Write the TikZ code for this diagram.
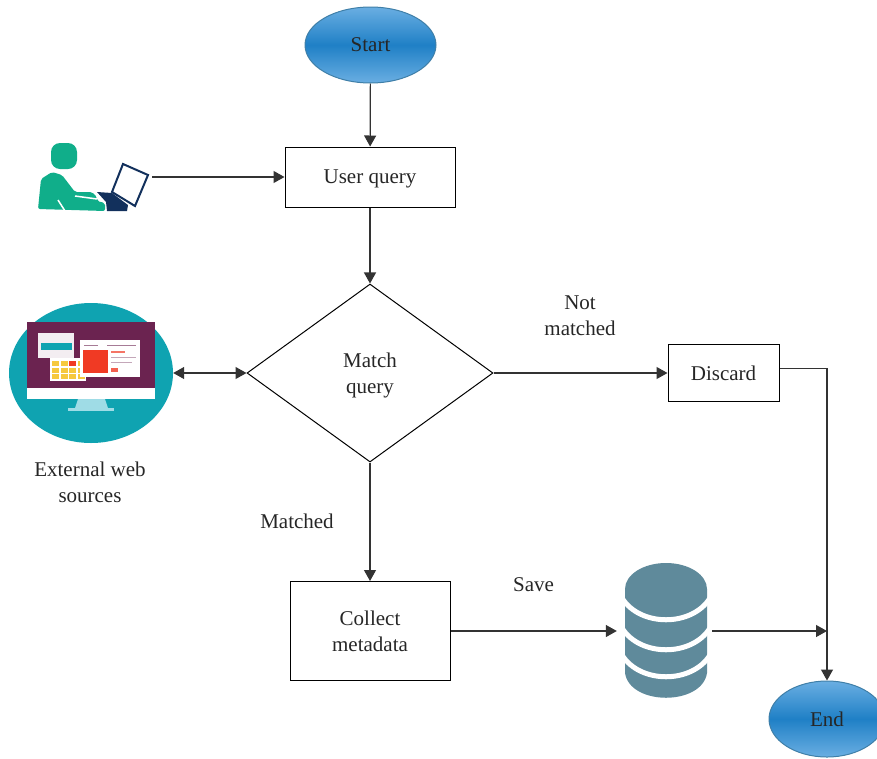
\documentclass[tikz,border=0pt]{standalone}
\usepackage{fontspec}
\setmainfont{Liberation Serif}
\usepackage{tikz}
\usetikzlibrary{shapes.geometric,arrows.meta}

\definecolor{linegray}{HTML}{333333}
\definecolor{bluetop}{HTML}{6AAEE2}
\definecolor{bluemid}{HTML}{1F80C6}
\definecolor{blueedge}{HTML}{3F7FA8}
\definecolor{usergreen}{HTML}{10AE8A}
\definecolor{laptopnavy}{HTML}{12305C}
\definecolor{webteal}{HTML}{0FA3B1}
\definecolor{webplum}{HTML}{6B2350}
\definecolor{webred}{HTML}{F03A24}
\definecolor{webyellow}{HTML}{F6C93E}
\definecolor{webstand}{HTML}{9FDCE6}
\definecolor{dbslate}{HTML}{5F8A9B}

\tikzset{
    label/.style={font=\fontsize{21}{26}\selectfont, text=black!85, align=center},
    box/.style={draw=black, line width=1pt, rectangle, inner sep=0pt},
    terminal/.style={ellipse, draw=blueedge, line width=1pt, inner sep=0pt,
        top color=bluetop, bottom color=bluetop, middle color=bluemid},
    iconbox/.style={rectangle, inner sep=0pt},
    flow/.style={draw=linegray, line width=1.2pt, -{Triangle[length=11pt,width=12pt]}},
    biflow/.style={draw=linegray, line width=1.2pt, {Triangle[length=11pt,width=12pt]}-{Triangle[length=11pt,width=12pt]}}
}

\begin{document}
\begin{tikzpicture}[x=1pt, y=-1pt]
        \useasboundingbox (0,0) rectangle (877,758);

        % User icon
        \fill[usergreen, rounded corners=9pt] (51,143) rectangle (77,169);
        \fill[usergreen, rounded corners=2pt] (38,209) -- (41,179) -- (52,172) -- (62,175)
            -- (75,192) -- (92,192) -- (97,197) -- (97,201) -- (105,203) -- (105,211) -- cycle;
        \draw[white, line width=1.5pt] (58,200) -- (65,211);
        \draw[white, line width=1.5pt] (75,196) -- (97,199);
        \draw[laptopnavy, line width=2pt, fill=white] (123,164) -- (148,175) -- (135,206) -- (112,192) -- cycle;
        \fill[laptopnavy] (97,192) -- (112,193) -- (128,205) -- (127,211) -- (107,211) -- (106,202) -- cycle;

        % Web sources icon
        \node[ellipse, fill=webteal, inner sep=0pt, minimum width=164pt, minimum height=140pt] (Web) at (91,373) {};
        \fill[webplum] (27,322) rectangle (155,388);
        \fill[white] (27,388) rectangle (155,399);
        \fill[webstand] (78,399) -- (105,399) -- (108,408) -- (75,408) -- cycle;
        \fill[webstand] (68,408) rectangle (114,411);
        \fill[white!92!webplum] (38,333) rectangle (74,358);
        \fill[webteal] (41,343) rectangle (72,350);
        \fill[white] (50,358) rectangle (86,381);
        \foreach \col in {0,1,2,3}
            \foreach \row in {0,1,2}
                \fill[webyellow] (52+8.5*\col,361+6.5*\row) rectangle (59+8.5*\col,366+6.5*\row);
        \fill[webred] (69,361) rectangle (76,366);
        \fill[white] (80,340) rectangle (140,377);
        \fill[webred] (83,350) rectangle (108,373);
        \draw[webplum!60, line width=1pt] (84,345) -- (98,345);
        \draw[webplum!60, line width=1pt] (107,345) -- (136,345);
        \fill[webred!70] (111,351) rectangle (125,353);
        \draw[webplum!40, line width=1pt] (111,357) -- (136,357);
        \draw[webplum!40, line width=1pt] (111,362) -- (132,362);
        \fill[webred!80] (111,368) rectangle (118,372);

        % Database icon
        \fill[dbslate] (625,589) -- (625,673) .. controls (630,706) and (702,706) .. (707,673) -- (707,589) -- cycle;
        \foreach \ypos in {598,628,655}
            \draw[white, line width=5pt] (622,\ypos) .. controls (640,\ypos+29) and (692,\ypos+29) .. (710,\ypos);
        \fill[dbslate] (666,589) ellipse (41pt and 26pt);

        % Nodes of the flow
        \node[terminal, label, minimum width=131pt, minimum height=76pt] (Start) at (370.5,45) {Start};
        \node[box, label, text depth=0pt, minimum width=170pt, minimum height=60pt] (Query) at (370,177) {User query};
        \node[diamond, draw=black, line width=1pt, label, text depth=0pt, inner sep=0pt, minimum width=246pt, minimum height=178pt] (Match) at (370,373) {Match\\query};
        \node[box, label, minimum width=111pt, minimum height=57pt] (Discard) at (723.5,373) {Discard};
        \node[box, label, minimum width=160pt, minimum height=99pt] (Collect) at (370,631) {Collect\\metadata};
        \node[terminal, label, minimum width=116pt, minimum height=76pt] (End) at (827,719) {End};
        \node[iconbox, minimum width=116pt, minimum height=70pt] (User) at (94,177) {};
        \node[iconbox, minimum width=95pt, minimum height=136pt] (Db) at (664.5,631) {};
        \coordinate (Join) at (827,631);

        % Free labels
        \node[label] (NotLabel) at (580,316) {Not\\matched};
        \node[label] (MatchedLabel) at (297,521) {Matched};
        \node[label] (SaveLabel) at (533.5,585) {Save};
        \node[label] (WebLabel) at (90,482) {External web\\sources};

        % Connectors
        \draw[flow] (Start) -- (Query);
        \draw[flow] (User) -- (Query);
        \draw[flow] (Query) -- (Match);
        \draw[biflow] (Web) -- (Match);
        \draw[flow] (Match) -- (Discard);
        \draw[flow] (Match) -- (Collect);
        \draw[flow] (Collect) -- (Db);
        \draw[flow] (Db) -- (Join);
        \draw[flow] ([yshift=4.5pt]Discard.east) -| (End);
\end{tikzpicture}
\end{document}
